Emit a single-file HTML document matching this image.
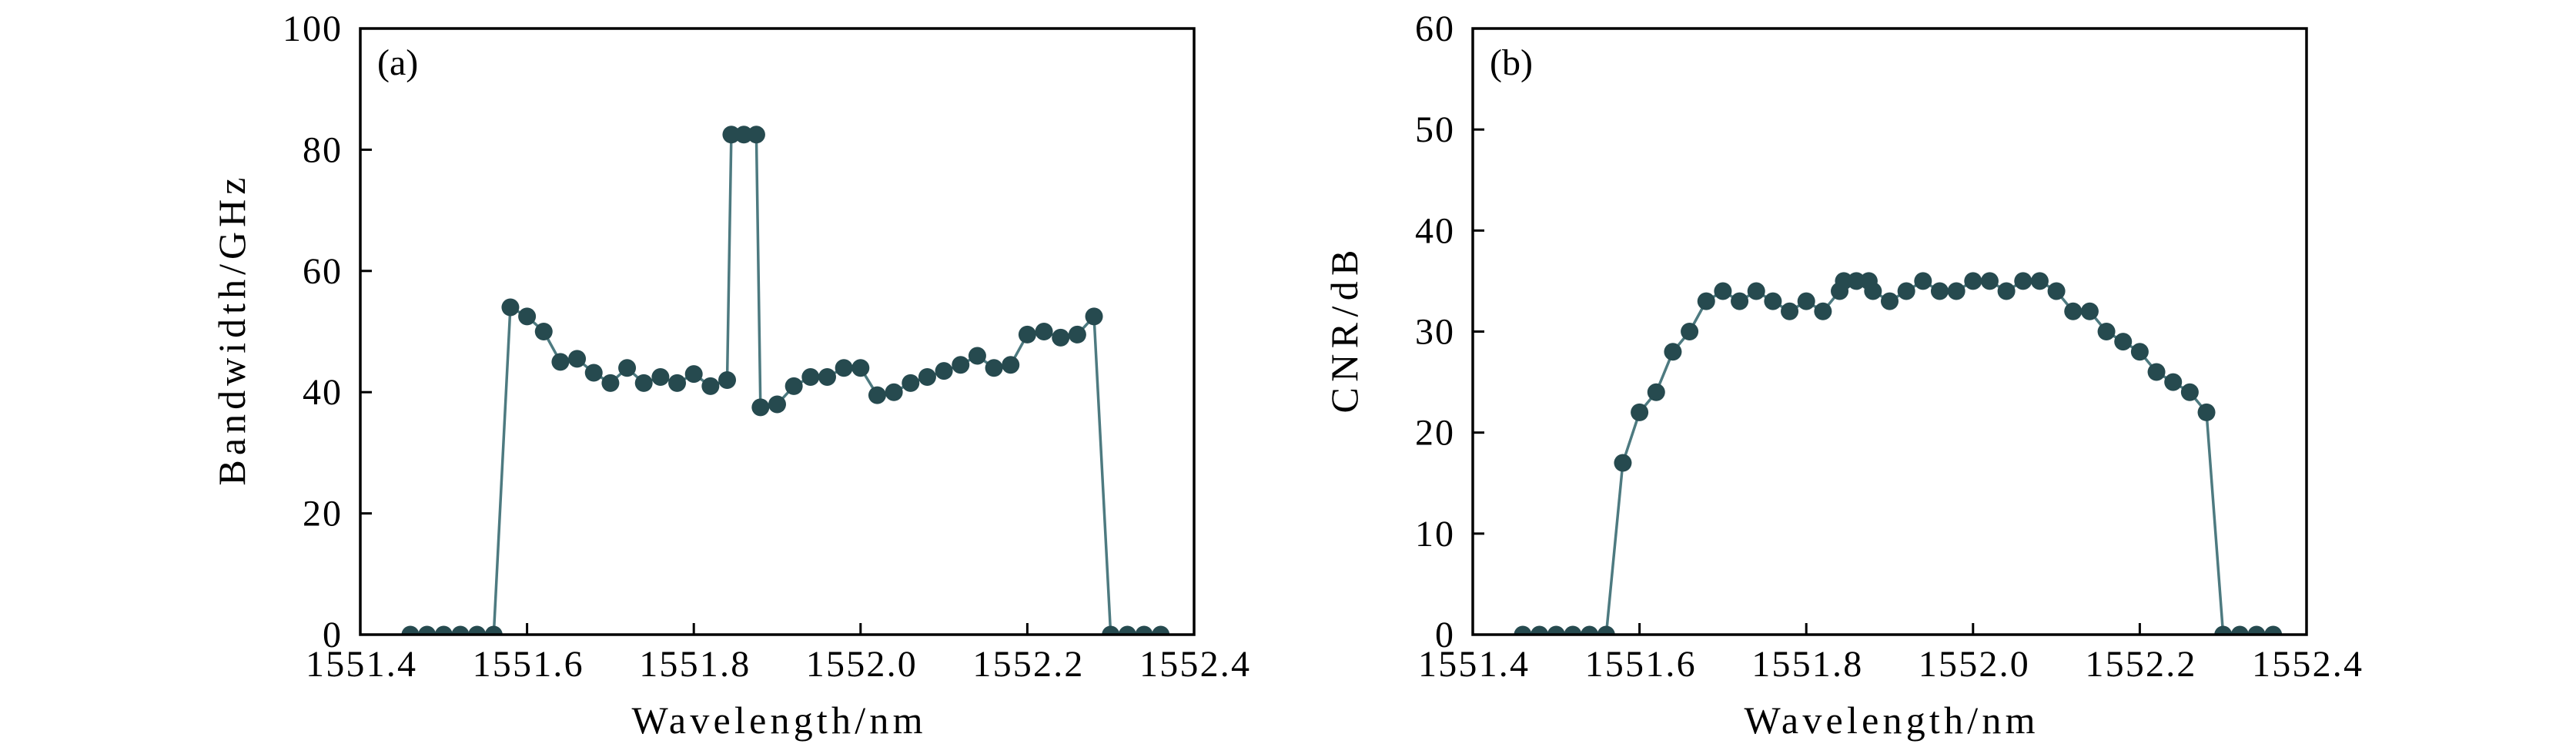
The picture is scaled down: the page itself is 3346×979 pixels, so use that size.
<!DOCTYPE html>
<html><head><meta charset="utf-8"><style>
html,body{margin:0;padding:0;background:#fff;}
svg text{font-family:"Liberation Serif",serif;fill:#000;}
</style></head><body>
<svg width="3346" height="974" viewBox="0 0 3346 974" id="fig"></svg>
<script>
const xsA = [1551.46,1551.48,1551.50,1551.52,1551.54,1551.56,1551.58,1551.60,1551.62,1551.64,1551.66,1551.68,1551.70,1551.72,1551.74,1551.76,1551.78,1551.80,1551.82,1551.84,1551.845,1551.86,1551.875,1551.88,1551.90,1551.92,1551.94,1551.96,1551.98,1552.00,1552.02,1552.04,1552.06,1552.08,1552.10,1552.12,1552.14,1552.16,1552.18,1552.20,1552.22,1552.24,1552.26,1552.28,1552.30,1552.32,1552.34,1552.36];
const bandwidth = [0,0,0,0,0,0,54,52.5,50,45,45.5,43.2,41.5,44,41.5,42.5,41.5,43,41,42,82.5,82.5,82.5,37.5,38,41,42.5,42.5,44,44,39.5,40,41.5,42.5,43.5,44.5,46,44,44.5,49.5,50,49,49.5,52.5,0,0,0,0];
const cnr = [0,0,0,0,0,0,17,22,24,28,30,33,34,33,34,33,32,33,32,34,35,35,35,34,33,34,35,34,34,35,35,34,35,35,34,32,32,30,29,28,26,25,24,22,0,0,0,0];
const xTicks = [1551.4,1551.6,1551.8,1552.0,1552.2,1552.4];
const xTickLabels = ["1551.4","1551.6","1551.8","1552.0","1552.2","1552.4"];
const yTicksA = [0,20,40,60,80,100];
const yTicksB = [0,10,20,30,40,50,60];

const NS="http://www.w3.org/2000/svg";
const svg=document.getElementById('fig');
function mk(tag,attrs,parent){const e=document.createElementNS(NS,tag);for(const k in attrs)e.setAttribute(k,attrs[k]);(parent||svg).appendChild(e);return e;}

function panel(id,L,yMax,yTicks,ys,ylabel,ylen,tag){
  const R=L+1083,T=37,B=824;
  const g=mk('g',{});
  
  
  const sx=v=>L+(v-1551.4)/1.0*(R-L);
  const sy=v=>B-(v/yMax)*(B-T);
  let d='';
  xsA.forEach((x,i)=>{d+=(i?'L':'M')+sx(x).toFixed(1)+','+sy(ys[i]).toFixed(1);});
  const ln=mk('path',{d:d,fill:'none',stroke:'#4d7a80','stroke-width':3.5},g);
  
  
  xsA.forEach((x,i)=>{
    const c=mk('circle',{cx:sx(x),cy:sy(ys[i]),r:11.5,fill:'#264a4f'},g);
    
    
  });
  mk('rect',{x:L-30,y:B+1.5,width:R-L+60,height:20,fill:'#fff'},g);
  const fr=mk('rect',{x:L,y:T,width:R-L,height:B-T,fill:'none',stroke:'#000','stroke-width':3.5},g);
  
  
  xTicks.forEach((t,i)=>{
    const x=sx(t);
    mk('line',{x1:x,x2:x,y1:B,y2:B-15,stroke:'#000','stroke-width':3},g);
    const tx=mk('text',{x:x-71,y:878,'font-size':48,textLength:143,lengthAdjust:'spacing'},g);
    tx.textContent=xTickLabels[i];
    
    
  });
  yTicks.forEach(t=>{
    const y=sy(t);
    mk('line',{x1:L,x2:L+15,y1:y,y2:y,stroke:'#000','stroke-width':3},g);
    const tx=mk('text',{x:L-23,y:y+16,'text-anchor':'end','font-size':48,'letter-spacing':2},g);
    tx.textContent=String(t);
    
    
  });
  const xl=mk('text',{x:(L+R)/2-189,y:952,'font-size':50,textLength:378,lengthAdjust:'spacing'},g);
  xl.textContent='Wavelength/nm';
  
  
  const yl=mk('text',{x:-ylen/2,y:0,'font-size':50,textLength:ylen,lengthAdjust:'spacing',transform:'translate('+(L-150)+','+((T+B)/2)+') rotate(-90)'},g);
  yl.textContent=ylabel;
  
  
  const pl=mk('text',{x:L+22,y:97,'font-size':48},g);
  pl.textContent=tag;
  
  
}
panel('panel-a-bandwidth',468,100,yTicksA,bandwidth,'Bandwidth/GHz',400,'(a)');
panel('panel-b-cnr',1913,60,yTicksB,cnr,'CNR/dB',212,'(b)');
</script>
</body></html>
